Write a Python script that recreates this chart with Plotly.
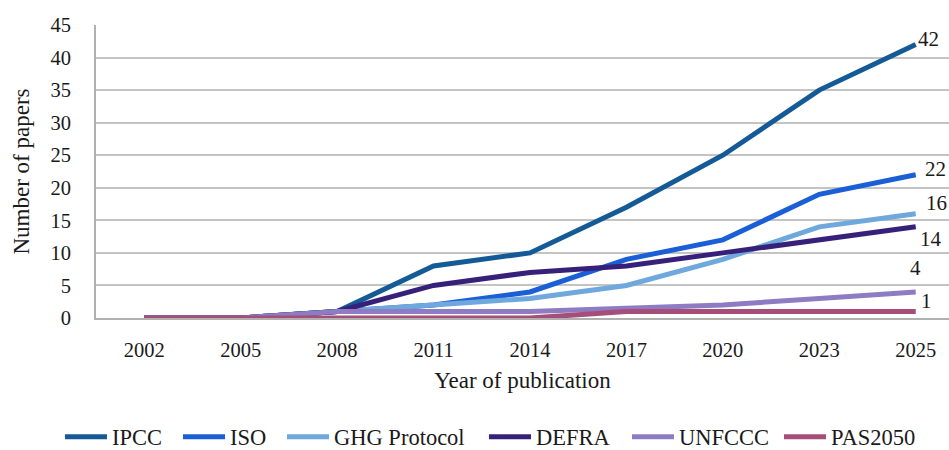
import plotly.graph_objects as go

years = ["2002", "2005", "2008", "2011", "2014", "2017", "2020", "2023", "2025"]
ipcc = [0, 0, 1, 8, 10, 17, 25, 35, 42]
iso = [0, 0, 1, 2, 4, 9, 12, 19, 22]
ghg = [0, 0, 1, 2, 3, 5, 9, 14, 16]
defra = [0, 0, 1, 5, 7, 8, 10, 12, 14]
unfccc = [0, 0, 1, 1, 1, 1.5, 2, 3, 4]
pas2050 = [0, 0, 0, 0, 0, 1, 1, 1, 1]

series = [
    ("IPCC", ipcc, "#145a96"),
    ("ISO", iso, "#1a5fd6"),
    ("GHG Protocol", ghg, "#6fa8dc"),
    ("DEFRA", defra, "#37207a"),
    ("UNFCCC", unfccc, "#8e7cc3"),
    ("PAS2050", pas2050, "#a64d79"),
]
# label offsets (px) for end-of-line value labels
label_shift = {
    "IPCC": (13, 6),
    "ISO": (20, 6),
    "GHG Protocol": (21, 11),
    "DEFRA": (15, -12),
    "UNFCCC": (0, 24),
    "PAS2050": (11, 10),
}
# left pixel position of each legend entry
legend_left_px = [60, 178, 282, 484, 627, 779]

FONT = "Liberation Serif"
TXT = "#1a1a1a"
W, H = 949, 450

fig = go.Figure()
annotations = []
legends = {}
last_idx = len(years) - 1
for i, (name, vals, color) in enumerate(series):
    lg = "legend" if i == 0 else f"legend{i + 1}"
    fig.add_trace(go.Scatter(
        x=years, y=vals, name=name, mode="lines", legend=lg,
        line=dict(color=color, width=5),
    ))
    legends[lg] = dict(
        orientation="h", xref="container", yref="container",
        x=legend_left_px[i] / W, xanchor="left", y=1 - 437 / H, yanchor="middle",
        font=dict(family=FONT, size=22.5, color=TXT),
        itemwidth=42, bgcolor="rgba(0,0,0,0)",
    )
    dx, dy = label_shift[name]
    last = vals[-1]
    annotations.append(dict(
        x=last_idx, y=last, xref="x", yref="y",
        text=str(int(last)) if float(last).is_integer() else str(last),
        showarrow=False, xshift=dx, yshift=dy,
        font=dict(family=FONT, size=21, color=TXT),
    ))

fig.update_layout(
    width=W, height=H,
    margin=dict(l=96, r=0, t=25, b=132),
    paper_bgcolor="white", plot_bgcolor="white",
    font=dict(family=FONT, size=21, color=TXT),
    showlegend=True,
    annotations=annotations,
    xaxis=dict(
        type="category", range=[-0.5, 8.345], automargin=False,
        showgrid=False, showline=True, linecolor="#b0b0b0", linewidth=2,
        ticks="", ticklabelstandoff=12,
        tickfont=dict(family=FONT, size=20.5, color=TXT),
        title=dict(text="Year of publication", standoff=12,
                   font=dict(family=FONT, size=23, color=TXT)),
        zeroline=False,
    ),
    yaxis=dict(
        range=[0, 45], dtick=5, tick0=0, automargin=False,
        showgrid=True, gridcolor="#c4c4c4", gridwidth=2,
        showline=True, linecolor="#b0b0b0", linewidth=2,
        ticks="", ticklabelstandoff=19,
        tickfont=dict(family=FONT, size=20.5, color=TXT),
        title=dict(text="Number of papers", standoff=14,
                   font=dict(family=FONT, size=23, color=TXT)),
        zeroline=False,
    ),
    **legends,
)

fig.write_html("out.html")
